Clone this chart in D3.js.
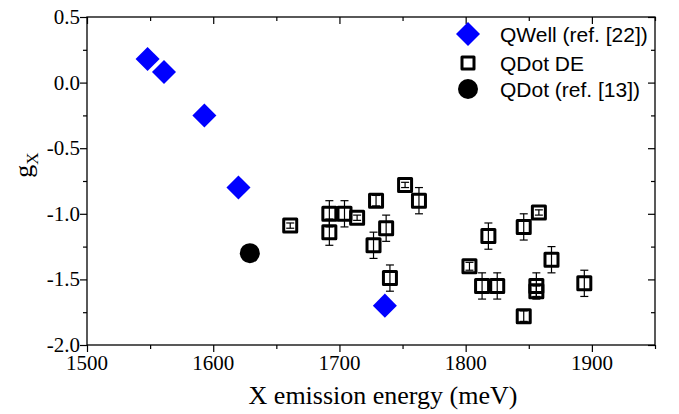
<!DOCTYPE html>
<html>
<head>
<meta charset="utf-8">
<script src="https://cdn.jsdelivr.net/npm/d3@7"></script>
<style>
  body { margin: 0; background: #fff; }
  .axis line { stroke: #000; stroke-width: 1.2; }
  .axis path { display: none; }
</style>
</head>
<body>
<div id="canvas"></div>
<script>
// QWell (ref. [22]) points
var qwellEnergy = [1548, 1561, 1593, 1620, 1736];
var qwellG      = [0.18, 0.08, -0.25, -0.80, -1.70];

// QDot DE points, with error bars
var qdotEnergy = [1661, 1692, 1692, 1704, 1714, 1727, 1729, 1737, 1740, 1752, 1763,
                  1803, 1813, 1818, 1825, 1846, 1846, 1856, 1856, 1858, 1868, 1894];
var qdotG      = [-1.09, -1.00, -1.14, -1.00, -1.03, -1.24, -0.90, -1.11, -1.49, -0.78, -0.90,
                  -1.40, -1.55, -1.17, -1.55, -1.10, -1.78, -1.55, -1.59, -0.99, -1.35, -1.53];
var qdotErr    = [0.02, 0.10, 0.10, 0.10, 0.02, 0.10, 0.04, 0.10, 0.10, 0.02, 0.10,
                  0.03, 0.10, 0.10, 0.10, 0.10, 0.04, 0.10, 0.04, 0.02, 0.10, 0.10];

// QDot (ref. [13]) point
var refEnergy = [1629];
var refG      = [-1.30];

var xMajor = [1500, 1600, 1700, 1800, 1900];
var xMinor = [1550, 1650, 1750, 1850, 1950];
var yMajor = [0.5, 0.0, -0.5, -1.0, -1.5, -2.0];
var yMinor = [0.25, -0.25, -0.75, -1.25, -1.75];
var xLabels = ["1500", "1600", "1700", "1800", "1900"];
var yLabels = ["0.5", "0.0", "-0.5", "-1.0", "-1.5", "-2.0"];

var legendLabels = ["QWell (ref. [22])", "QDot DE", "QDot (ref. [13])"];

var W = 679, H = 414;
var m = {t:17, r:24, b:69, l:87};
var w = W - m.l - m.r, h = H - m.t - m.b;
var serif = '"Liberation Serif", serif';

var svg = d3.select('#canvas').append('svg')
    .attr('width', W).attr('height', H);
var plot = svg.append('g').attr('transform', 'translate(' + m.l + ',' + m.t + ')');

var scaleX = d3.scaleLinear().domain([1500, 1950]).range([0, w]);
var scaleY = d3.scaleLinear().domain([-2, 0.5]).range([h, 0]);

// axes: bottom/left ticks point out, top/right point in
plot.append('g').attr('class', 'axis').attr('transform', 'translate(0,' + h + ')')
    .call(d3.axisBottom(scaleX).tickValues(xMajor).tickSize(7).tickFormat(''));
plot.append('g').attr('class', 'axis').attr('transform', 'translate(0,' + h + ')')
    .call(d3.axisBottom(scaleX).tickValues(xMinor).tickSize(4).tickFormat(''));
plot.append('g').attr('class', 'axis')
    .call(d3.axisLeft(scaleY).tickValues(yMajor).tickSize(7).tickFormat(''));
plot.append('g').attr('class', 'axis')
    .call(d3.axisLeft(scaleY).tickValues(yMinor).tickSize(4).tickFormat(''));
plot.append('g').attr('class', 'axis')
    .call(d3.axisTop(scaleX).tickValues(xMajor).tickSize(-7).tickFormat(''));
plot.append('g').attr('class', 'axis')
    .call(d3.axisTop(scaleX).tickValues(xMinor).tickSize(-4).tickFormat(''));
plot.append('g').attr('class', 'axis').attr('transform', 'translate(' + w + ',0)')
    .call(d3.axisRight(scaleY).tickValues(yMajor).tickSize(-7).tickFormat(''));
plot.append('g').attr('class', 'axis').attr('transform', 'translate(' + w + ',0)')
    .call(d3.axisRight(scaleY).tickValues(yMinor).tickSize(-4).tickFormat(''));

// tick labels drawn as plain serif text
plot.selectAll('.xlab').data(xMajor).enter()
    .append('text').attr('class', 'xlab')
    .attr('x', function(d){ return scaleX(d); })
    .attr('y', h + 25)
    .attr('text-anchor', 'middle')
    .style('font-family', serif).style('font-size', '21px')
    .text(function(d, i){ return xLabels[i]; });
plot.selectAll('.ylab').data(yMajor).enter()
    .append('text').attr('class', 'ylab')
    .attr('x', -7)
    .attr('y', function(d){ return scaleY(d) + 7; })
    .attr('text-anchor', 'end')
    .style('font-family', serif).style('font-size', '21px')
    .text(function(d, i){ return yLabels[i]; });

plot.append('rect')
    .attr('width', w).attr('height', h)
    .style('fill', 'none').style('stroke', '#000').style('stroke-width', 1.3);

// axis titles
svg.append('text')
    .attr('x', 383).attr('y', 404)
    .attr('text-anchor', 'middle')
    .style('font-family', serif).style('font-size', '26px')
    .text('X emission energy (meV)');

var yt = svg.append('text')
    .attr('transform', 'translate(32,165) rotate(-90)')
    .attr('text-anchor', 'middle')
    .style('font-family', serif).style('font-size', '26px');
yt.append('tspan').text('g');
yt.append('tspan').attr('dy', 6).style('font-size', '17px').text('X');

var diamond = d3.symbol().type(d3.symbolSquare).size(289);
var square = d3.symbol().type(d3.symbolSquare).size(169);

// QDot DE: error bars + hollow squares
var qdot = qdotEnergy.map(function(d, i){ return {x:d, g:qdotG[i], e:qdotErr[i]}; });
var pts = plot.selectAll('.qdot').data(qdot).enter()
    .append('g').attr('class', 'qdot');
pts.append('line')
    .attr('x1', function(d){ return scaleX(d.x); }).attr('x2', function(d){ return scaleX(d.x); })
    .attr('y1', function(d){ return scaleY(d.g - d.e); }).attr('y2', function(d){ return scaleY(d.g + d.e); })
    .style('stroke', '#000').style('stroke-width', 1.2);
[-1, 1].forEach(function(s){
    pts.append('line')
        .attr('x1', function(d){ return scaleX(d.x) - 4; }).attr('x2', function(d){ return scaleX(d.x) + 4; })
        .attr('y1', function(d){ return scaleY(d.g + s * d.e); }).attr('y2', function(d){ return scaleY(d.g + s * d.e); })
        .style('stroke', '#000').style('stroke-width', 1.2);
});
pts.append('path')
    .attr('d', square)
    .attr('transform', function(d){ return 'translate(' + scaleX(d.x) + ',' + scaleY(d.g) + ')'; })
    .style('fill', 'none').style('stroke', '#000').style('stroke-width', 3).style('stroke-linejoin', 'round');

// QWell diamonds
plot.selectAll('.qwell').data(qwellEnergy).enter()
    .append('path').attr('class', 'qwell')
    .attr('d', diamond)
    .attr('transform', function(d, i){ return 'translate(' + scaleX(d) + ',' + scaleY(qwellG[i]) + ') rotate(45)'; })
    .style('fill', '#0000ff');

// QDot ref circle
plot.selectAll('.ref').data(refEnergy).enter()
    .append('circle').attr('class', 'ref')
    .attr('cx', function(d){ return scaleX(d); })
    .attr('cy', function(d, i){ return scaleY(refG[i]); })
    .attr('r', 10)
    .style('fill', '#000');

// legend
var legY = [34, 63, 89];
var leg = svg.append('g');
leg.append('path').attr('d', diamond)
    .attr('transform', 'translate(468,' + legY[0] + ') rotate(45)').style('fill', '#0000ff');
leg.append('path').attr('d', d3.symbol().type(d3.symbolSquare).size(144))
    .attr('transform', 'translate(468,' + legY[1] + ')')
    .style('fill', 'none').style('stroke', '#000').style('stroke-width', 3).style('stroke-linejoin', 'round');
leg.append('circle').attr('cx', 468).attr('cy', legY[2]).attr('r', 10).style('fill', '#000');
leg.selectAll('.lt').data(legendLabels).enter()
    .append('text').attr('class', 'lt')
    .attr('x', 500).attr('y', function(d, i){ return legY[i] + 7.5; })
    .style('font-family', '"Liberation Sans", Arial, sans-serif').style('font-size', '21px')
    .text(function(d){ return d; });
</script>
</body>
</html>
